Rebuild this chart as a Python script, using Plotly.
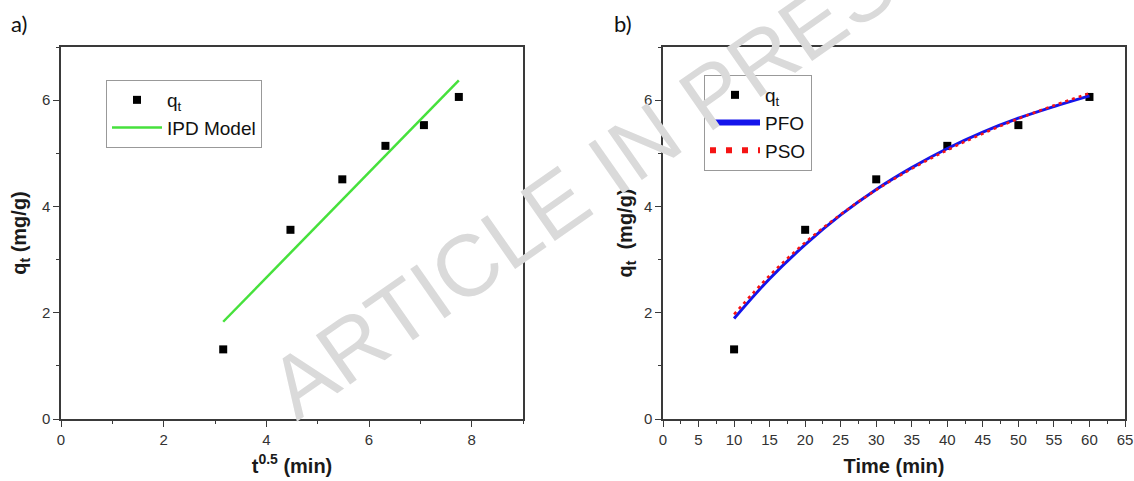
import plotly.graph_objects as go

W, H = 1134, 481

# Adsorption kinetics: measured uptake and fitted models
time_min = [10, 20, 30, 40, 50, 60]
sqrt_time = [3.16, 4.47, 5.48, 6.32, 7.07, 7.75]
qt_exp = [1.31, 3.56, 4.51, 5.14, 5.53, 6.06]
ipd_fit = [1.83, 3.13, 4.12, 4.96, 5.70, 6.37]

model_time = [10, 15, 20, 25, 30, 35, 40, 45, 50, 55, 60]
pfo_fit = [1.89, 2.64, 3.28, 3.84, 4.32, 4.73, 5.09, 5.40, 5.66, 5.88, 6.08]
pso_fit = [1.97, 2.70, 3.32, 3.85, 4.31, 4.71, 5.06, 5.37, 5.65, 5.90, 6.13]

x_ticks_a = [0, 2, 4, 6, 8]
x_ticks_b = list(range(0, 70, 5))
y_ticks = [0, 2, 4, 6]

FONT = "Liberation Sans, Arial, sans-serif"
AX = "#3a3a3a"
GREEN = "rgb(70,225,60)"
BLUE = "rgb(20,20,235)"
RED = "rgb(245,20,20)"


def fx(p):
    return p / W


def fy(p):
    return 1 - p / H


fig = go.Figure()

# panel a: intraparticle diffusion plot
fig.add_trace(go.Scatter(x=sqrt_time, y=qt_exp, mode="markers", name="q<sub>t</sub>",
                         marker=dict(symbol="square", size=8, color="black"),
                         xaxis="x", yaxis="y", legend="legend"))
fig.add_trace(go.Scatter(x=sqrt_time, y=ipd_fit, mode="lines", name="IPD Model",
                         line=dict(color=GREEN, width=2.5),
                         xaxis="x", yaxis="y", legend="legend"))

# panel b: PFO / PSO model fits
fig.add_trace(go.Scatter(x=time_min, y=qt_exp, mode="markers", name="q<sub>t</sub>",
                         marker=dict(symbol="square", size=8, color="black"),
                         xaxis="x2", yaxis="y2", legend="legend2"))
fig.add_trace(go.Scatter(x=model_time, y=pfo_fit, mode="lines", name="PFO", showlegend=False,
                         line=dict(color=BLUE, width=3, shape="spline"),
                         xaxis="x2", yaxis="y2"))
fig.add_trace(go.Scatter(x=model_time, y=pso_fit, mode="lines", name="PSO", showlegend=False,
                         line=dict(color=RED, width=2.5, shape="spline", dash="3px,4px"),
                         xaxis="x2", yaxis="y2"))
# legend keys for the fitted curves (drawn thicker in the legend)
fig.add_trace(go.Scatter(x=[None], y=[None], mode="lines", name="PFO",
                         line=dict(color=BLUE, width=6),
                         xaxis="x2", yaxis="y2", legend="legend2"))
fig.add_trace(go.Scatter(x=[None], y=[None], mode="lines", name="PSO",
                         line=dict(color=RED, width=6, dash="6px,10px"),
                         xaxis="x2", yaxis="y2", legend="legend2"))


def axis_style(**kw):
    d = dict(showline=True, linecolor=AX, linewidth=1.5, mirror=True,
             ticks="outside", ticklen=6, tickwidth=1.3, tickcolor=AX,
             showgrid=False, zeroline=False,
             tickfont=dict(family=FONT, size=15, color="#333333"))
    d.update(kw)
    return d


title_font = dict(family=FONT, size=20, color="#1a1a1a", weight="bold")
legend_font = dict(family=FONT, size=19, color="#111111")

fig.update_layout(
    width=W, height=H,
    margin=dict(l=0, r=0, t=0, b=0, autoexpand=False),
    paper_bgcolor="white", plot_bgcolor="white",
    showlegend=True,
    xaxis=axis_style(domain=[fx(61), fx(523)], range=[0, 9], tickvals=x_ticks_a,
                     minor=dict(ticks="outside", ticklen=3.5, tickcolor=AX, dtick=1, tick0=0),
                     anchor="y",
                     title=dict(text="t<sup>0.5</sup> (min)", font=title_font, standoff=12)),
    yaxis=axis_style(domain=[fy(419), fy(47)], range=[0, 7], tickvals=y_ticks,
                     minor=dict(ticks="outside", ticklen=3.5, tickcolor=AX, dtick=1, tick0=0),
                     anchor="x",
                     title=dict(text="q<sub>t</sub> (mg/g)", font=title_font, standoff=10)),
    xaxis2=axis_style(domain=[fx(663), fx(1125)], range=[0, 65], tickvals=x_ticks_b,
                      minor=dict(ticks="outside", ticklen=3.5, tickcolor=AX, dtick=2.5, tick0=0),
                      anchor="y2",
                      title=dict(text="Time (min)", font=title_font, standoff=12)),
    yaxis2=axis_style(domain=[fy(419), fy(47)], range=[0, 7], tickvals=y_ticks,
                      minor=dict(ticks="outside", ticklen=3.5, tickcolor=AX, dtick=1, tick0=0),
                      anchor="x2",
                      title=dict(text="q<sub>t</sub> \u00a0(mg/g)", font=title_font, standoff=6)),
    legend=dict(x=fx(106), y=fy(80), xanchor="left", yanchor="top",
                bgcolor="white", bordercolor="#999999", borderwidth=1,
                itemwidth=50, font=legend_font),
    legend2=dict(x=fx(704), y=fy(75), xanchor="left", yanchor="top",
                 bgcolor="white", bordercolor="#999999", borderwidth=1,
                 itemwidth=50, font=legend_font),
    annotations=[
        dict(text="a)", x=fx(19), y=fy(23), xref="paper", yref="paper",
             xanchor="center", yanchor="middle", showarrow=False,
             font=dict(family="Lato, sans-serif", size=22, color="#111111")),
        dict(text="b)", x=fx(623), y=fy(23), xref="paper", yref="paper",
             xanchor="center", yanchor="middle", showarrow=False,
             font=dict(family="Lato, sans-serif", size=22, color="#111111")),
        dict(text="ARTICLE IN PRESS", x=fx(605), y=fy(168), xref="paper", yref="paper",
             xanchor="center", yanchor="middle", showarrow=False, textangle=-35,
             font=dict(family=FONT, size=87, color="rgb(218,218,218)")),
    ],
)

fig.write_html("out.html")
